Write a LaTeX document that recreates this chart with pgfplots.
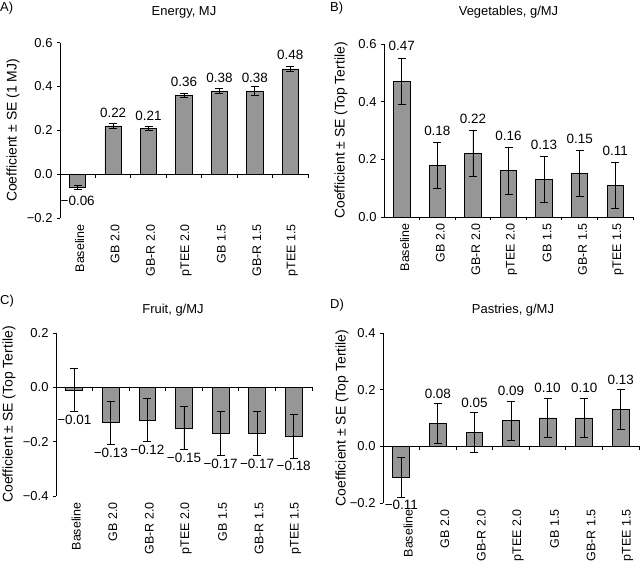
\documentclass[border=0pt]{standalone}
\usepackage{fontspec}
\setmainfont{Liberation Sans}
\usepackage{pgfplots}
\usepackage{pgfplotstable}
\pgfplotsset{compat=1.18}
\definecolor{barfill}{RGB}{150,150,150}

\pgfplotstableread{
x y e ly lab
0 -0.06 0.01 -0.122 −0.06
1 0.22 0.01 0.281 0.22
2 0.21 0.01 0.266 0.21
3 0.36 0.01 0.423 0.36
4 0.38 0.01 0.441 0.38
5 0.38 0.02 0.441 0.38
6 0.48 0.01 0.545 0.48
}\tabA
\pgfplotstableread{
x y e ly lab
0 0.47 0.08 0.595 0.47
1 0.18 0.08 0.30 0.18
2 0.22 0.08 0.34 0.22
3 0.16 0.08 0.28 0.16
4 0.13 0.08 0.25 0.13
5 0.15 0.08 0.27 0.15
6 0.11 0.08 0.23 0.11
}\tabB
\pgfplotstableread{
x y e ly lab
0 -0.01 0.08 -0.12 −0.01
1 -0.13 0.08 -0.24 −0.13
2 -0.12 0.08 -0.23 −0.12
3 -0.15 0.08 -0.26 −0.15
4 -0.17 0.08 -0.28 −0.17
5 -0.17 0.08 -0.28 −0.17
6 -0.18 0.08 -0.29 −0.18
}\tabC
\pgfplotstableread{
x y e ly lab
0 -0.11 0.07 -0.207 −0.11
1 0.08 0.07 0.185 0.08
2 0.05 0.07 0.155 0.05
3 0.09 0.07 0.195 0.09
4 0.10 0.07 0.205 0.10
5 0.10 0.07 0.205 0.10
6 0.13 0.07 0.235 0.13
}\tabD

\pgfplotsset{
  panel/.style={
    scale only axis,
    anchor=south west,
    xmin=-0.5, xmax=6.5,
    axis y line=left,
    axis x line=bottom,
    axis line style={-},
    x axis line style={draw=none},
    y axis line style={line width=0.8bp, black},
    xtick={0,...,6},
    xticklabels={Baseline,GB 2.0,GB-R 2.0,pTEE 2.0,GB 1.5,GB-R 1.5,pTEE 1.5},
    xtick style={draw=none},
    xticklabel style={rotate=90, anchor=east, font=\fontsize{12.5}{14}\selectfont},
    tick align=outside,
    major tick length=3bp,
    ytick style={line width=0.8bp, black},
    yticklabel style={font=\fontsize{13}{15}\selectfont, xshift=-1bp},
    title style={at={(axis description cs:0.5,1)}, anchor=center, font=\fontsize{13}{15}\selectfont},
    ylabel style={at={(axis description cs:0,0.5)}, anchor=center, font=\fontsize{14}{16}\selectfont},
    clip=false,
  },
  bars/.style={
    ybar, bar width=0.46, fill=barfill, draw=black, line width=0.8bp,
    error bars/.cd, y dir=both, y explicit,
    error bar style={line width=0.8bp, black},
    error mark options={rotate=90, mark size=4bp, line width=0.8bp, black},
  },
  labs/.style={
    draw=none, mark=none, nodes near coords, point meta=explicit symbolic,
    every node near coord/.append style={anchor=center, font=\fontsize{13.5}{15}\selectfont},
  },
}

\newcommand{\zeroline}{%
  \draw[line width=0.8bp] (axis cs:-0.5,0) -- (axis cs:6.5,0);
  \pgfplotsinvokeforeach{0.5,1.5,2.5,3.5,4.5,5.5,6.5}{\draw[line width=0.8bp] (axis cs:##1,0) -- ++(0pt,-3.5bp);}%
}

\begin{document}
\begin{tikzpicture}
\useasboundingbox (0,0) rectangle (640bp,567bp);

% Panel A
\begin{axis}[panel, at={(60bp,349bp)}, width=248bp, height=175.3bp,
  ymin=-0.2, ymax=0.6, ytick={-0.2,0,0.2,0.4,0.6},
  yticklabels={−0.2,0.0,0.2,0.4,0.6},
  title={Energy, MJ}, title style={yshift=24.7bp},
  ylabel={Coefficient ± SE (1 MJ)}, ylabel style={yshift=47bp},
  xticklabel style={yshift=-2bp}]
\zeroline
\addplot[bars] table[x=x, y=y, y error=e] \tabA;
\addplot[labs] table[x=x, y=ly, meta=lab] \tabA;
\end{axis}

% Panel B
\begin{axis}[panel, at={(384bp,350bp)}, width=249bp, height=173bp,
  ymin=0, ymax=0.6, ytick={0,0.2,0.4,0.6},
  yticklabels={0.0,0.2,0.4,0.6},
  title={Vegetables, g/MJ}, title style={yshift=26bp},
  ylabel={Coefficient ± SE (Top Tertile)}, ylabel style={yshift=43bp},
  xticklabel style={yshift=-3bp}]
\zeroline
\addplot[bars] table[x=x, y=y, y error=e] \tabB;
\addplot[labs] table[x=x, y=ly, meta=lab] \tabB;
\end{axis}

% Panel C
\begin{axis}[panel, at={(56bp,71bp)}, width=256bp, height=163bp,
  ymin=-0.4, ymax=0.2, ytick={-0.4,-0.2,0,0.2},
  yticklabels={−0.4,−0.2,0.0,0.2},
  title={Fruit, g/MJ}, title style={yshift=17bp, xshift=-11bp},
  ylabel={Coefficient ± SE (Top Tertile)}, ylabel style={yshift=47bp},
  xticklabel style={yshift=-2bp}]
\zeroline
\addplot[bars] table[x=x, y=y, y error=e] \tabC;
\addplot[labs] table[x=x, y=ly, meta=lab] \tabC;
\end{axis}

% Panel D
\begin{axis}[panel, at={(383bp,64bp)}, width=256bp, height=170bp,
  ymin=-0.2, ymax=0.4, ytick={-0.2,0,0.2,0.4},
  yticklabels={−0.2,0.0,0.2,0.4},
  title={Pastries, g/MJ}, title style={yshift=17bp, xshift=2bp},
  ylabel={Coefficient ± SE (Top Tertile)}, ylabel style={yshift=41bp},
  xticklabel style={yshift=-7bp}]
\zeroline
\addplot[bars] table[x=x, y=y, y error=e] \tabD;
\addplot[labs] table[x=x, y=ly, meta=lab] \tabD;
\end{axis}

\node[anchor=west, font=\fontsize{13}{15}\selectfont, inner sep=0pt] at (0bp,559bp) {A)};
\node[anchor=west, font=\fontsize{13}{15}\selectfont, inner sep=0pt] at (330bp,559bp) {B)};
\node[anchor=west, font=\fontsize{13}{15}\selectfont, inner sep=0pt] at (0bp,266bp) {C)};
\node[anchor=west, font=\fontsize{13}{15}\selectfont, inner sep=0pt] at (330bp,262bp) {D)};
\end{tikzpicture}
\end{document}
